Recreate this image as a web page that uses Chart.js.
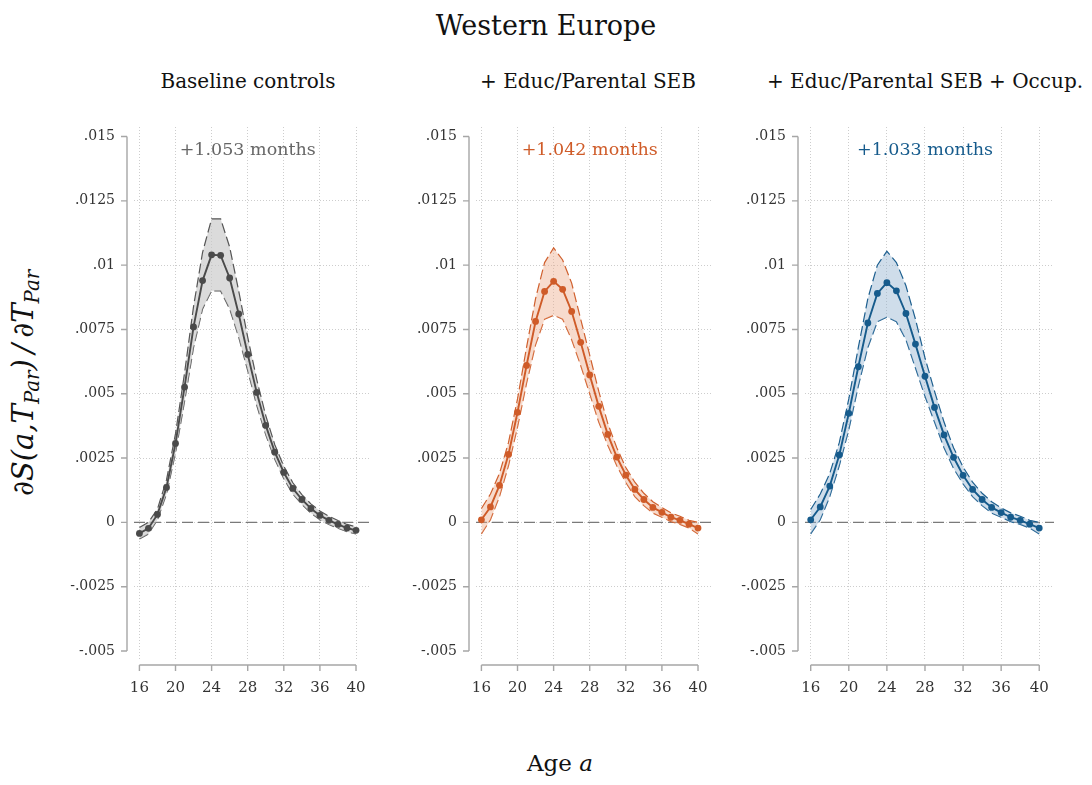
<!DOCTYPE html>
<html>
<head>
<meta charset="utf-8">
<script src="https://cdn.jsdelivr.net/npm/chart.js@4.4.1/dist/chart.umd.min.js"></script>
<style>
  body { margin: 0; background: #fff; width: 1092px; height: 785px; position: relative; overflow: hidden;
         font-family: "DejaVu Serif", "Liberation Serif", serif; color: #111; }
  .txt { position: absolute; white-space: nowrap; line-height: 1; text-align: center; }
  canvas { position: absolute; }
  sub { font-size: 0.68em; vertical-align: -0.3em; }
</style>
</head>
<body>

<div class="txt" style="left:0; width:1092px; top:12px; font-size:27px;">Western Europe</div>
<div class="txt" style="left:98px; width:300px; top:71px; font-size:20px;">Baseline controls</div>
<div class="txt" style="left:438px; width:300px; top:71px; font-size:20px;">+ Educ/Parental SEB</div>
<div class="txt" style="left:745px; width:360px; top:71px; font-size:20px;">+ Educ/Parental SEB + Occup.</div>
<div class="txt" style="left:560px; top:752px; transform:translateX(-50%); font-size:23px;">Age <i>a</i></div>
<div class="txt" style="left:26px; top:383px; transform:translate(-50%,-50%) rotate(-90deg); font-size:29px; font-style:italic;">∂S(a,T<sub>Par</sub>)&thinsp;/&thinsp;∂T<sub>Par</sub></div>

<canvas id="c1" width="334" height="600" style="left:40px; top:110px;"></canvas>
<canvas id="c2" width="334" height="600" style="left:382px; top:110px;"></canvas>
<canvas id="c3" width="347" height="600" style="left:711px; top:110px;"></canvas>

<script>
const ages = [16,17,18,19,20,21,22,23,24,25,26,27,28,29,30,31,32,33,34,35,36,37,38,39,40];
const xTicks = [16,20,24,28,32,36,40];
const yTicks = [-0.005,-0.0025,0,0.0025,0.005,0.0075,0.01,0.0125,0.015];
const yTickLabels = ['-.005','-.0025','0','.0025','.005','.0075','.01','.0125','.015'];

// baseline controls
const baseEst = [-0.00043,-0.00023,0.00031,0.00136,0.00307,0.00526,0.0076,0.0094,0.0104,0.01038,0.0095,0.0081,0.00653,0.00505,0.00377,0.00273,0.00194,0.00132,0.00089,0.00054,0.00027,0.00008,-0.00008,-0.00022,-0.00031];
const baseLo  = [-0.00065,-0.00045,0.0001,0.0011,0.0027,0.0047,0.0068,0.0083,0.009,0.009,0.0083,0.0072,0.0059,0.00455,0.0034,0.00245,0.0017,0.0011,0.0007,0.00036,0.0001,-0.00008,-0.00023,-0.00036,-0.00045];
const baseHi  = [-0.0002,0,0.00052,0.00165,0.00345,0.0058,0.0084,0.0105,0.0118,0.0118,0.0107,0.009,0.0072,0.00555,0.00415,0.00302,0.00218,0.00154,0.00108,0.00072,0.00044,0.00024,0.00007,-0.00008,-0.00017];

// + educ / parental SEB
const educEst = [0.0001,0.0006,0.00144,0.00264,0.00428,0.0061,0.00781,0.00898,0.00937,0.00906,0.0082,0.007,0.00573,0.00451,0.00342,0.00254,0.00184,0.00128,0.00089,0.00058,0.00039,0.0002,0.00008,-0.00007,-0.00022];
const educLo  = [-0.00045,0.0001,0.001,0.0022,0.0037,0.0054,0.0069,0.0079,0.00805,0.0079,0.0071,0.0061,0.005,0.0039,0.003,0.0022,0.00155,0.001,0.00065,0.00036,0.0002,0.00003,-0.00008,-0.00022,-0.00045];
const educHi  = [0.00054,0.0011,0.0019,0.0031,0.0048,0.0068,0.0087,0.0101,0.01067,0.0102,0.0093,0.0079,0.0065,0.0051,0.00385,0.0029,0.00213,0.00156,0.00113,0.0008,0.00058,0.00037,0.00024,0.00008,0];

// + educ / parental SEB + occupation
const occEst = [0.0001,0.0006,0.00141,0.00262,0.00424,0.00605,0.00775,0.0089,0.00932,0.009,0.00812,0.00693,0.00568,0.00447,0.0034,0.00253,0.00183,0.00128,0.00089,0.00058,0.00038,0.0002,0.00008,-0.00007,-0.00022];
const occLo  = [-0.00045,0.0001,0.001,0.0022,0.0036,0.0053,0.0068,0.0078,0.00798,0.0078,0.0071,0.006,0.0049,0.0039,0.0029,0.0021,0.0015,0.001,0.00065,0.00036,0.0002,0.00003,-0.00008,-0.00022,-0.00045];
const occHi  = [0.0005,0.0011,0.0019,0.0031,0.0048,0.0068,0.0087,0.01,0.01054,0.0101,0.0092,0.0079,0.0064,0.0051,0.0039,0.0029,0.00215,0.00156,0.00113,0.0008,0.00056,0.00037,0.00024,0.00008,0];

const gains = ['+1.053 months', '+1.042 months', '+1.033 months'];

const stataAxes = {
  id: 'stataAxes',
  beforeDatasetsDraw(chart) {
    const {ctx, chartArea: a, scales: {x, y}} = chart;
    ctx.save();
    // zero line
    const y0 = y.getPixelForValue(0);
    ctx.strokeStyle = '#7a7a7a';
    ctx.lineWidth = 1.4;
    ctx.setLineDash([11, 5]);
    ctx.beginPath();
    ctx.moveTo(a.left, y0);
    ctx.lineTo(a.right, y0);
    ctx.stroke();
    ctx.setLineDash([]);

    // axes sit a little apart from the plot region
    ctx.strokeStyle = '#a6a6a6';
    ctx.lineWidth = 1.4;
    ctx.beginPath();
    const ax = a.left - 7;
    const yp = y.ticks.map(t => y.getPixelForValue(t.value));
    ctx.moveTo(ax, Math.min(...yp));
    ctx.lineTo(ax, Math.max(...yp));
    yp.forEach(p => { ctx.moveTo(ax - 6, p); ctx.lineTo(ax, p); });
    const ay = a.bottom + 5;
    const xp = x.ticks.map(t => x.getPixelForValue(t.value));
    ctx.moveTo(Math.min(...xp), ay);
    ctx.lineTo(Math.max(...xp), ay);
    xp.forEach(p => { ctx.moveTo(p, ay); ctx.lineTo(p, ay + 6); });
    ctx.stroke();
    ctx.restore();
  },
  afterDatasetsDraw(chart, args, opts) {
    const {ctx, chartArea: a, scales: {x}} = chart;
    ctx.save();
    ctx.font = '17.5px "DejaVu Serif"';
    ctx.fillStyle = opts.color;
    ctx.textAlign = 'center';
    ctx.textBaseline = 'alphabetic';
    ctx.fillText(opts.text, x.getPixelForValue(28), a.top + 28);
    ctx.restore();
  }
};

function makePanel(id, est, lo, hi, color, band, dash, txtColor, gain) {
  const ctx = document.getElementById(id).getContext('2d');
  const pts = arr => arr.map((v, i) => ({x: ages[i], y: v}));
  return new Chart(ctx, {
    type: 'line',
    data: {
      datasets: [
        {
          data: pts(est),
          borderColor: color,
          borderWidth: 1.9,
          pointRadius: 3.4,
          pointBackgroundColor: color,
          pointBorderWidth: 0,
          tension: 0,
          fill: false
        },
        {
          data: pts(hi),
          borderColor: dash,
          borderWidth: 1.2,
          borderDash: [10, 4],
          pointRadius: 0,
          backgroundColor: band,
          fill: '+1',
          tension: 0
        },
        {
          data: pts(lo),
          borderColor: dash,
          borderWidth: 1.2,
          borderDash: [10, 4],
          pointRadius: 0,
          fill: false,
          tension: 0
        }
      ]
    },
    options: {
      responsive: false,
      animation: false,
      layout: { padding: { top: 17, left: 0, right: 0, bottom: 0 } },
      plugins: {
        legend: { display: false },
        tooltip: { enabled: false },
        stataAxes: { text: gain, color: txtColor }
      },
      scales: {
        x: {
          type: 'linear',
          min: 15.4,
          max: 41.55,
          afterBuildTicks: s => { s.ticks = xTicks.map(v => ({value: v})); },
          afterFit: s => { s.height = 50; s.paddingLeft = 0; s.paddingRight = 0; },
          grid: { color: '#cdcdcd', lineWidth: 1, drawTicks: false },
          border: { display: false, dash: [1, 2] },
          ticks: { padding: 19, color: '#333', font: { family: 'DejaVu Serif', size: 15 } }
        },
        y: {
          min: -0.00535,
          max: 0.01537,
          afterBuildTicks: s => { s.ticks = yTicks.map(v => ({value: v})); },
          afterFit: s => { s.width = 94; s.paddingTop = 0; s.paddingBottom = 0; },
          grid: {
            color: c => (c.tick && (c.tick.value === yTicks[0] || c.tick.value === yTicks[yTicks.length - 1])) ? 'rgba(0,0,0,0)' : '#cdcdcd',
            lineWidth: 1,
            drawTicks: false
          },
          border: { display: false, dash: [1, 2] },
          ticks: {
            padding: 19,
            color: '#333',
            font: { family: 'DejaVu Serif', size: 14 },
            callback: (v, i) => yTickLabels[i]
          }
        }
      }
    },
    plugins: [stataAxes]
  });
}

makePanel('c1', baseEst, baseLo, baseHi, '#4a4a4a', 'rgba(200,200,200,0.65)', '#555555', '#666666', gains[0]);
makePanel('c2', educEst, educLo, educHi, '#cf5b28', 'rgba(236,170,135,0.42)', '#d0602e', '#cf5b28', gains[1]);
makePanel('c3', occEst, occLo, occHi, '#165b8c', 'rgba(140,175,205,0.42)', '#1d5f8f', '#165b8c', gains[2]);
</script>
</body>
</html>
